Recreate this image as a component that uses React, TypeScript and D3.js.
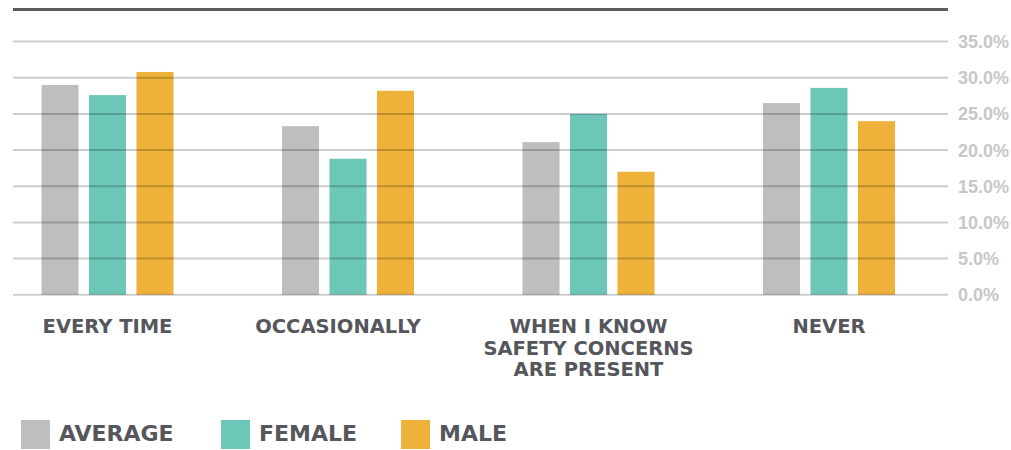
import React from "react";
import * as d3 from "d3";

const categories = ["EVERY TIME", "OCCASIONALLY", "WHEN I KNOW\nSAFETY CONCERNS\nARE PRESENT", "NEVER"];
const seriesNames = ["AVERAGE", "FEMALE", "MALE"];
const averageValues = [29.0, 23.3, 21.1, 26.5];
const femaleValues = [27.6, 18.8, 25.0, 28.6];
const maleValues = [30.8, 28.2, 17.0, 24.0];
const tickValues = [0, 5, 10, 15, 20, 25, 30, 35];
const colors = ["#bdbec0", "#6cc7b9", "#eeb13a"];

export default function App() {
  const W = 1011, H = 450;
  const seriesValues = [averageValues, femaleValues, maleValues];
  const y = d3.scaleLinear().domain([0, 35]).range([294.7, 41.6]);
  const x0 = d3.scalePoint<string>().domain(categories).range([107.5, 829]);
  const x1 = d3.scaleBand<string>().domain(seriesNames).range([-66, 66]).paddingInner(0.22).paddingOuter(0);
  const gridX1 = 13, gridX2 = 948;
  const catFont = "'DejaVu Sans', sans-serif";
  const tickFont = "'Liberation Sans', Arial, sans-serif";
  const legendX = [21, 221, 401];
  const labelShift = [0, -10, 0, 0];

  return (
    <svg width={W} height={H} style={{ position: "absolute", left: 0, top: 0, background: "#fff" }}>
      <line x1={gridX1} x2={gridX2} y1={9.5} y2={9.5} stroke="#5b5c60" strokeWidth={3} />
      {categories.map((c, ci) => (
        <g key={c} transform={`translate(${x0(c)},0)`}>
          {seriesNames.map((s, si) => (
            <rect
              key={s}
              x={x1(s)!}
              width={x1.bandwidth()}
              y={y(seriesValues[si][ci])}
              height={y(0) - y(seriesValues[si][ci])}
              fill={colors[si]}
            />
          ))}
        </g>
      ))}
      {tickValues.map((t) => (
        <g key={t}>
          <line x1={gridX1} x2={gridX2} y1={y(t)} y2={y(t)} stroke="#000" strokeOpacity={0.2} strokeWidth={2} />
          <text
            x={958}
            y={y(t) + 6.5}
            fontFamily={tickFont}
            fontWeight="bold"
            fontSize={18}
            fill="#c6c7c9"
          >
            {d3.format(".1f")(t) + "%"}
          </text>
        </g>
      ))}
      {categories.map((c, ci) => {
        const cx = (x0(c) as number) + labelShift[ci];
        return (
          <text
            key={c}
            x={cx}
            y={333}
            textAnchor="middle"
            fontFamily={catFont}
            fontWeight="bold"
            fontSize={19.5}
            fill="#55575c"
          >
            {c.split("\n").map((line, li) => (
              <tspan key={li} x={cx} dy={li === 0 ? 0 : 21.5}>
                {line}
              </tspan>
            ))}
          </text>
        );
      })}
      {seriesNames.map((s, si) => (
        <g key={s} transform={`translate(${legendX[si]},420)`}>
          <rect x={0} y={0} width={29} height={29} fill={colors[si]} />
          <text x={38} y={21} fontFamily={catFont} fontWeight="bold" fontSize={22} fill="#55575c">
            {s}
          </text>
        </g>
      ))}
    </svg>
  );
}
